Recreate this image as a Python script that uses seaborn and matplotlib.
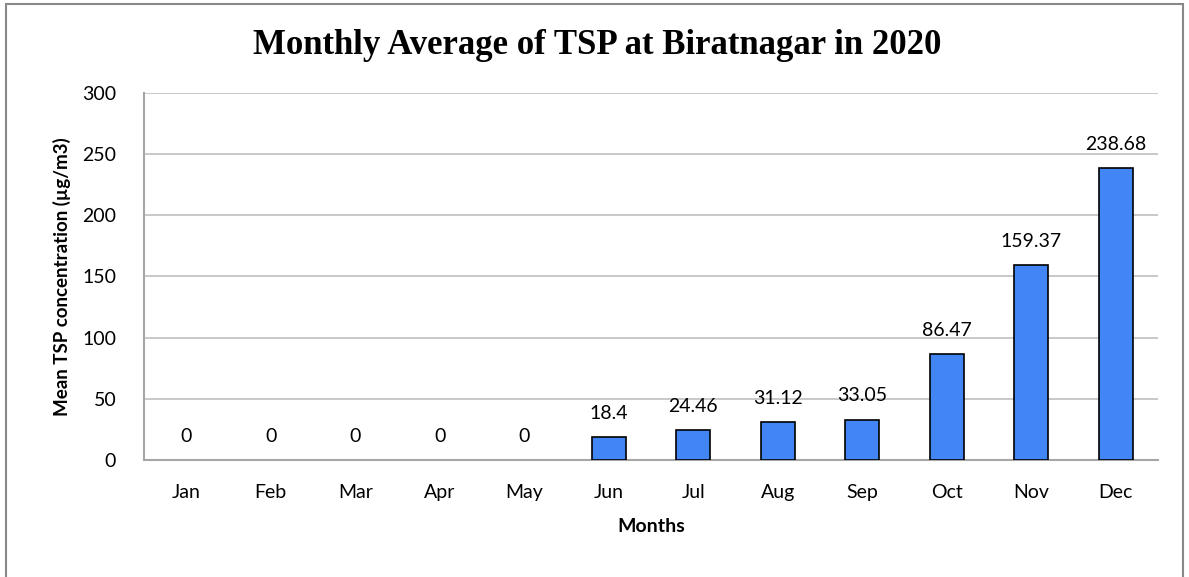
import matplotlib
matplotlib.use("Agg")
import matplotlib.pyplot as plt
import seaborn as sns
import pandas as pd
from matplotlib.patches import Rectangle

months = ["Jan", "Feb", "Mar", "Apr", "May", "Jun", "Jul", "Aug", "Sep", "Oct", "Nov", "Dec"]
tsp = [0, 0, 0, 0, 0, 18.4, 24.46, 31.12, 33.05, 86.47, 159.37, 238.68]
labels = ["0", "0", "0", "0", "0", "18.4", "24.46", "31.12", "33.05", "86.47", "159.37", "238.68"]

df = pd.DataFrame({"Month": months, "TSP": tsp})

sns.set_theme(style="white")
plt.rcParams["font.family"] = ["Lato", "DejaVu Sans"]
plt.rcParams["text.color"] = "black"
plt.rcParams["axes.labelcolor"] = "black"

fig = plt.figure(figsize=(11.89, 5.77), dpi=100)
ax = fig.add_axes([0.1211, 0.2028, 0.974 - 0.1211, 0.8388 - 0.2028])

sns.barplot(data=df, x="Month", y="TSP", color="#4285F4", saturation=1,
            edgecolor="black", linewidth=1.2, width=0.40, ax=ax, zorder=3)

# zero-height bars draw nothing in the reference
for patch, v in zip(ax.patches, tsp):
    if v == 0:
        patch.set_linewidth(0)

ax.set_ylim(0, 300)
ax.set_yticks(range(0, 301, 50))
ax.set_xlim(-0.5, 11.5)
ax.yaxis.grid(True, color="#BFBFBF", linewidth=1.2, zorder=0)
ax.set_axisbelow(True)
for s in ["top", "right"]:
    ax.spines[s].set_visible(False)
for s in ["left", "bottom"]:
    ax.spines[s].set_color("#A6A6A6")
    ax.spines[s].set_linewidth(1.5)

ax.tick_params(axis="both", length=0, labelsize=14, colors="black")
ax.tick_params(axis="x", pad=17)
ax.tick_params(axis="y", pad=20)
ax.set_xlabel("Months", fontsize=14, fontweight="bold", color="black")
ax.set_ylabel("Mean TSP concentration (µg/m3)", fontsize=13.5, fontweight="bold", color="black")
ax.xaxis.set_label_coords(0.5, -(527 - 460) / 367, transform=ax.transAxes)
ax.yaxis.set_label_coords(-(144 - 62) / 1014, 0.5, transform=ax.transAxes)
ax.xaxis.label.set_va("center")
ax.yaxis.label.set_va("center")

for i, (v, lab) in enumerate(zip(tsp, labels)):
    ax.annotate(lab, (i, v), xytext=(0, 11), textcoords="offset points",
                ha="center", va="bottom", fontsize=14, color="black")

fig.text(597 / 1189, 1 - 45 / 577, "Monthly Average of TSP at Biratnagar in 2020",
         ha="center", va="center", fontsize=25, fontweight="bold", color="black",
         family=["Liberation Serif", "DejaVu Serif"])

fig.patches.append(Rectangle((6 / 1189, -0.05), (1183 - 6) / 1189, 1 - 4 / 577 + 0.05,
                             transform=fig.transFigure, fill=False,
                             edgecolor="#888888", linewidth=1.5))

fig.savefig("out.png", dpi=100)
